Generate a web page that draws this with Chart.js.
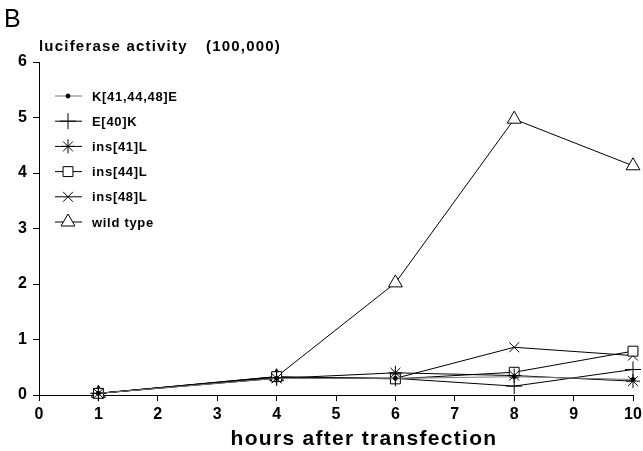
<!DOCTYPE html>
<html>
<head>
<meta charset="utf-8">
<script src="https://cdn.jsdelivr.net/npm/chart.js@4/dist/chart.umd.min.js"></script>
<style>
  html, body { margin: 0; padding: 0; background: #fff; }
  #wrap { width: 643px; height: 451px; position: relative; }
</style>
</head>
<body>
<div id="wrap"><canvas id="c"></canvas></div>
<script>
// hours after transfection
const hours = [1, 4, 6, 8, 10];
const xTicks = [0, 1, 2, 3, 4, 5, 6, 7, 8, 9, 10];
const yTicks = [0, 1, 2, 3, 4, 5, 6];

// luciferase activity (x 100,000)
const k414448E = [0.03, 0.30, 0.30, 0.33, 0.28];
const e40K     = [0.03, 0.31, 0.30, 0.16, 0.46];
const ins41L   = [0.03, 0.30, 0.40, 0.35, 0.25];
const ins44L   = [0.03, 0.33, 0.29, 0.41, 0.79];
const ins48L   = [0.03, 0.32, 0.30, 0.86, 0.71];
const wildType = [0.03, 0.33, 2.02, 4.97, 4.13];

const FONT = "'Liberation Sans', Arial, sans-serif";
const pts = arr => arr.map((v, i) => ({ x: hours[i], y: v }));

function ds(label, data, style, radius, color, bg) {
  return {
    label, data: pts(data),
    borderColor: color, backgroundColor: bg || "#fff",
    borderWidth: 1, pointStyle: style, pointRadius: radius,
    pointBorderColor: "#000", pointBackgroundColor: bg || "#fff",
    pointBorderWidth: 1, tension: 0, clip: false,
  };
}

const datasets = [
  ds("K[41,44,48]E", k414448E, "circle", 2, "#777", "#000"),
  ds("E[40]K", e40K, "cross", 8, "#000"),
  ds("ins[41]L", ins41L, "star", 7, "#000"),
  ds("ins[44]L", ins44L, "rect", 7, "#000"),
  ds("ins[48]L", ins48L, "crossRot", 7, "#000"),
  ds("wild type", wildType, "triangle", 8, "#000"),
];

const legendAndTitles = {
  id: "legendAndTitles",
  afterDraw(chart) {
    const ctx = chart.ctx;
    ctx.save();
    ctx.fillStyle = "#000";
    ctx.textBaseline = "middle";
    ctx.font = "25px " + FONT;
    ctx.fillText("B", 4, 20);
    ctx.font = "bold 15px " + FONT;
    ctx.letterSpacing = "1.2px";
    ctx.fillText("luciferase activity", 39, 47);
    ctx.fillText("(100,000)", 206, 47);

    ctx.font = "bold 21px " + FONT;
    ctx.letterSpacing = "1.3px";
    ctx.textAlign = "center";
    ctx.fillText("hours after transfection", 364, 439);
    ctx.textAlign = "left";

    ctx.font = "bold 13px " + FONT;
    ctx.letterSpacing = "0.7px";
    chart.data.datasets.forEach((d, i) => {
      const y = 96 + i * 25.2;
      ctx.strokeStyle = d.borderColor;
      ctx.lineWidth = 1;
      ctx.beginPath(); ctx.moveTo(55, y); ctx.lineTo(82, y); ctx.stroke();
      ctx.strokeStyle = "#000";
      ctx.fillStyle = d.pointBackgroundColor;
      Chart.helpers.drawPoint(ctx, { pointStyle: d.pointStyle, radius: d.pointRadius, borderWidth: 1, rotation: 0 }, 68, y);
      ctx.fillStyle = "#000";
      ctx.fillText(d.label, 92, y + 1);
    });
    ctx.restore();
  }
};

new Chart(document.getElementById("c"), {
  type: "line",
  data: { datasets },
  options: {
    responsive: true, maintainAspectRatio: false, animation: false,
    layout: { padding: { top: 62, right: 10, left: 0, bottom: 0 } },
    plugins: { legend: { display: false }, tooltip: { enabled: false } },
    scales: {
      x: {
        type: "linear", min: 0, max: 10,
        afterBuildTicks: s => { s.ticks = xTicks.map(v => ({ value: v })); },
        afterFit: s => { s.height = 56; s.paddingLeft = 0; s.paddingRight = 0; },
        grid: { drawOnChartArea: false, color: "#000", tickLength: 6 },
        border: { color: "#000", width: 1 },
        ticks: { color: "#000", padding: 4, maxRotation: 0, font: { family: FONT, size: 16, weight: "bold" } },
      },
      y: {
        min: 0, max: 6,
        afterBuildTicks: s => { s.ticks = yTicks.map(v => ({ value: v })); },
        afterFit: s => { s.width = 39; s.paddingTop = 0; s.paddingBottom = 0; },
        grid: { drawOnChartArea: false, color: "#000", tickLength: 6 },
        border: { color: "#000", width: 1 },
        ticks: { color: "#000", padding: 6, font: { family: FONT, size: 16, weight: "bold" } },
      },
    },
  },
  plugins: [legendAndTitles],
});
</script>
</body>
</html>
